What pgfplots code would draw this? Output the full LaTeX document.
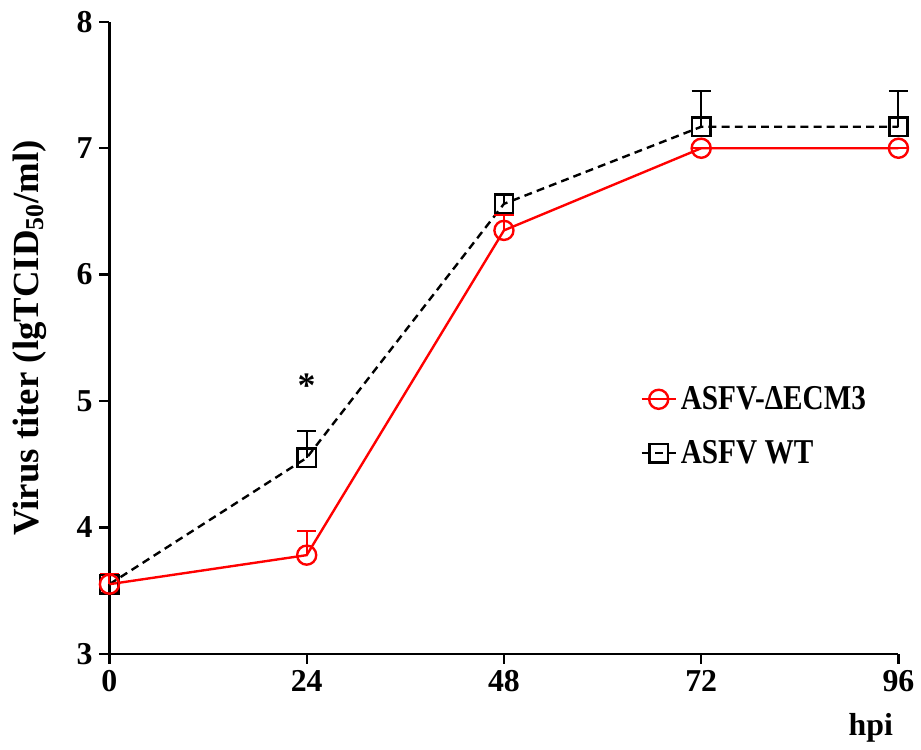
\documentclass[border=0pt]{standalone}
\usepackage{fontspec}
\setmainfont{Liberation Serif}
\newfontfamily\legfont[FakeStretch=0.84]{Liberation Serif}
\usepackage{pgfplots}
\pgfplotsset{compat=1.18}
\begin{document}
\begin{tikzpicture}
\begin{axis}[
  scale only axis, width=396.5pt, height=317.5pt,
  xmin=0, xmax=96, ymin=3, ymax=8,
  axis lines=left, axis line style={line width=1.2pt, -},
  xtick={0,24,48,72,96}, ytick={3,4,5,6,7,8},
  tick align=outside, major tick length=5pt,
  tick style={line width=1.2pt, black},
  /pgf/number format/assume math mode=true,
  ticklabel style={font=\fontsize{16}{18}\selectfont\bfseries},
  clip=false,
  xlabel={hpi}, ylabel={Virus titer (lgTCID\textsubscript{50}/ml)},
  xlabel style={font=\fontsize{16}{18}\selectfont\bfseries, at={(axis description cs:0.965,-0.118)}, anchor=center},
  ylabel style={font=\fontsize{18.5}{20}\selectfont\bfseries, at={(axis description cs:-0.101,0.5)}, anchor=center},
  legend style={draw=none, at={(0.665,0.36)}, anchor=west, font=\fontsize{17.5}{20}\legfont\bfseries, row sep=10pt, fill=none},
  legend cell align=left, reverse legend,
  error bars/error bar style={line width=1pt, solid},
  error bars/error mark options={rotate=90, mark size=4.8pt, line width=1pt, solid},
]
\coordinate (bl) at (rel axis cs:0,0);
\coordinate (tr) at (rel axis cs:1,1);
\addplot[black, line width=1.2pt, dash pattern=on 4pt off 2.6pt, mark=square, mark size=4.6pt, mark options={solid, line width=1.2pt},
  error bars/.cd, y dir=plus, y explicit]
  coordinates {(0,3.55) +- (0,0.07) (24,4.55) +- (0,0.21) (48,6.56) +- (0,0.08) (72,7.17) +- (0,0.28) (96,7.17) +- (0,0.28)};
\addlegendentry{ASFV WT}
\addplot[red, line width=1.2pt, mark=o, mark size=4.8pt, mark options={solid, line width=1.2pt},
  error bars/.cd, y dir=plus, y explicit]
  coordinates {(0,3.55) +- (0,0.08) (24,3.78) +- (0,0.19) (48,6.35) +- (0,0.12) (72,7.0) +- (0,0) (96,7.0) +- (0,0)};
\addlegendentry{ASFV-ΔECM3}
\node[font=\fontsize{18}{20}\selectfont\bfseries] at (axis cs:24,5.12) {*};
\end{axis}
\path ([shift={(-55pt,-47.5pt)}]bl) rectangle ([shift={(9pt,11pt)}]tr);
\end{tikzpicture}
\end{document}
